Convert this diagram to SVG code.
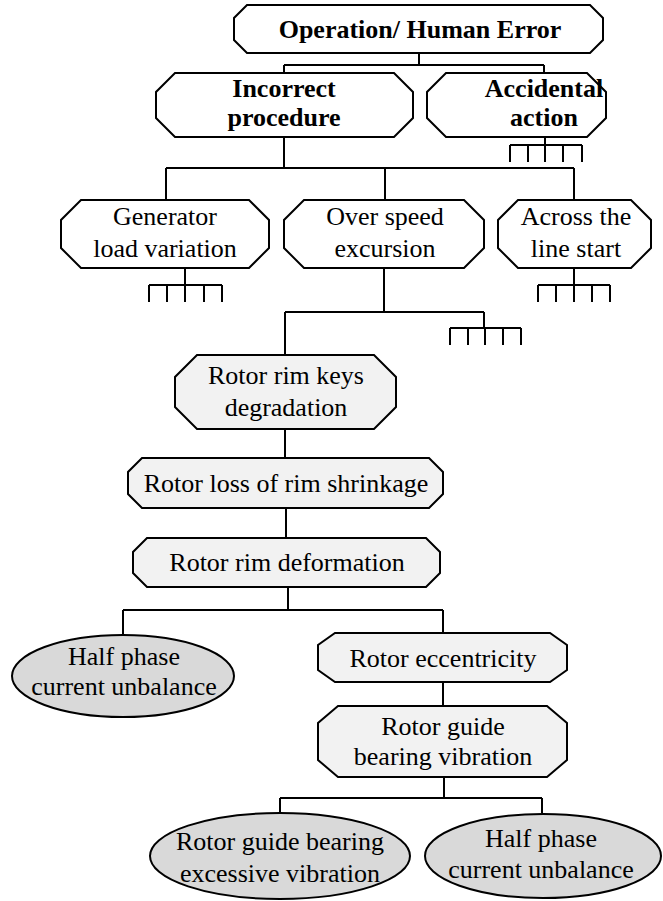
<svg xmlns="http://www.w3.org/2000/svg" width="663" height="901" viewBox="0 0 663 901">
  <style>
    .box { fill: #ffffff; stroke: #000; stroke-width: 2; stroke-linejoin: miter; }
    .soft { fill: #f2f2f2; stroke: #000; stroke-width: 2; }
    .oval { fill: #d9d9d9; stroke: #000; stroke-width: 2; }
    .wire { fill: none; stroke: #000; stroke-width: 2; }
    text { font-family: "Liberation Serif", "Times New Roman", serif; font-size: 26px; fill: #000; text-anchor: middle; }
    .b { font-weight: bold; }
  </style>
  <rect width="663" height="901" fill="#fff"/>

  <!-- connectors -->
  <g id="connectors" class="wire">
    <path d="M419,53 V65 M284,65 H544 M284,65 V73 M544,65 V73"/>
    <!-- undeveloped branch under Accidental action -->
    <path d="M545,137 V145 M510,145 H582 M510,145 V162 M528,145 V162 M545,145 V162 M563,145 V162 M582,145 V162"/>
    <path d="M284,137 V168 M166,168 H574 M166,168 V200 M385,168 V200 M574,168 V200"/>
    <path d="M185,268 V285 M149,285 H222 M149,285 V302 M167,285 V302 M185,285 V302 M204,285 V302 M222,285 V302"/>
    <path d="M574,268 V285 M538,285 H610 M538,285 V302 M556,285 V302 M574,285 V302 M592,285 V302 M610,285 V302"/>
    <path d="M384,268 V312 M285,312 H484 M285,312 V355 M484,312 V328 M450,328 H521 M450,328 V345 M468,328 V345 M485,328 V345 M503,328 V345 M521,328 V345"/>
    <path d="M285,429 V458 M286,508 V538"/>
    <path d="M288,587 V610 M123,610 H443 M123,610 V635 M443,610 V633"/>
    <path d="M443,682 V706"/>
    <path d="M444,777 V798 M280,798 H542 M280,798 V813 M542,798 V813"/>
  </g>

  <g id="n-operation">
    <polygon class="box" points="247,5 590,5 603,18 603,40 590,53 247,53 234,40 234,18"/>
    <text class="b" x="420" y="38">Operation/ Human Error</text>
  </g>

  <g id="n-incorrect">
    <polygon class="box" points="175,73 394,73 413,92 413,118 394,137 175,137 156,118 156,92"/>
    <text class="b" x="284" y="97">Incorrect</text>
    <text class="b" x="284" y="126">procedure</text>
  </g>

  <g id="n-accidental">
    <polygon class="box" points="446,73 587,73 606,92 606,118 587,137 446,137 427,118 427,92"/>
    <text class="b" x="544" y="97">Accidental</text>
    <text class="b" x="544" y="126">action</text>
  </g>

  <g id="n-generator">
    <polygon class="box" points="81,200 249,200 269,220 269,248 249,268 81,268 61,248 61,220"/>
    <text x="165" y="225">Generator</text>
    <text x="165" y="257">load variation</text>
  </g>

  <g id="n-overspeed">
    <polygon class="box" points="304,200 464,200 484,220 484,248 464,268 304,268 284,248 284,220"/>
    <text x="385" y="225">Over speed</text>
    <text x="385" y="257">excursion</text>
  </g>

  <g id="n-across">
    <polygon class="box" points="518,200 631,200 651,220 651,248 631,268 518,268 498,248 498,220"/>
    <text x="576" y="225">Across the</text>
    <text x="576" y="257">line start</text>
  </g>

  <g id="n-rimkeys">
    <polygon class="soft" points="197,355 374,355 396,377 396,407 374,429 197,429 175,407 175,377"/>
    <text x="286" y="384">Rotor rim keys</text>
    <text x="286" y="416">degradation</text>
  </g>

  <g id="n-shrinkage">
    <polygon class="soft" points="142,458 429,458 443,472 443,494 429,508 142,508 128,494 128,472"/>
    <text x="286" y="492">Rotor loss of rim shrinkage</text>
  </g>

  <g id="n-deformation">
    <polygon class="soft" points="147,538 426,538 440,552 440,573 426,587 147,587 133,573 133,552"/>
    <text x="287" y="571">Rotor rim deformation</text>
  </g>

  <g id="n-halfphase-1">
    <ellipse class="oval" cx="123" cy="676" rx="111" ry="41"/>
    <text x="124" y="665">Half phase</text>
    <text x="124" y="695">current unbalance</text>
  </g>

  <g id="n-eccentricity">
    <polygon class="soft" points="335,633 550,633 567,645 567,670 550,682 335,682 318,670 318,645"/>
    <text x="443" y="667">Rotor eccentricity</text>
  </g>

  <g id="n-guidevib">
    <polygon class="soft" points="338,706 547,706 567,723 567,760 547,777 338,777 318,760 318,723"/>
    <text x="443" y="735">Rotor guide</text>
    <text x="443" y="765">bearing vibration</text>
  </g>

  <g id="n-excessive">
    <ellipse class="oval" cx="280" cy="856" rx="130" ry="43"/>
    <text x="280" y="850">Rotor guide bearing</text>
    <text x="280" y="882">excessive vibration</text>
  </g>

  <g id="n-halfphase-2">
    <ellipse class="oval" cx="543" cy="856" rx="118" ry="42"/>
    <text x="541" y="847">Half phase</text>
    <text x="541" y="878">current unbalance</text>
  </g>
</svg>
